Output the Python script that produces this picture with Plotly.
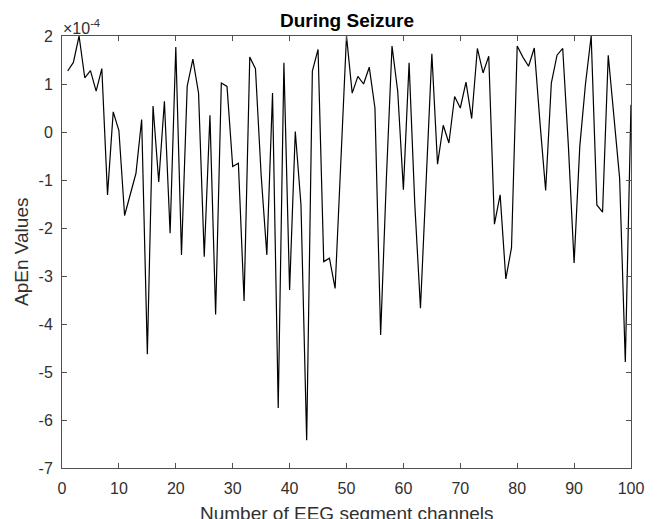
import plotly.graph_objects as go

# ApEn values in units of 1e-4
channels = list(range(1, 101))
apen_values = [
    1.27, 1.45, 2.00, 1.13, 1.28, 0.85, 1.32, -1.31, 0.42, 0.03,
    -1.74, -1.30, -0.86, 0.26, -4.63, 0.54, -1.04, 0.64, -2.11, 1.77,
    -2.56, 0.95, 1.52, 0.81, -2.60, 0.35, -3.80, 1.02, 0.95, -0.72,
    -0.65, -3.52, 1.56, 1.32, -0.90, -2.56, 0.81, -5.75, 1.44, -3.29,
    0.01, -1.52, -6.42, 1.27, 1.72, -2.70, -2.63, -3.26, -0.50, 2.00,
    0.81, 1.16, 1.00, 1.35, 0.50, -4.23, -1.00, 1.79, 0.85, -1.20,
    1.44, -1.50, -3.67, -0.90, 1.63, -0.67, 0.14, -0.23, 0.74, 0.50,
    1.04, 0.28, 1.74, 1.23, 1.58, -1.92, -1.31, -3.06, -2.41, 1.79,
    1.56, 1.37, 1.75, 0.20, -1.22, 1.02, 1.60, 1.74, -0.30, -2.73,
    -0.30, 1.00, 2.00, -1.52, -1.67, 1.60, 0.30, -0.96, -4.79, 0.57,
]
x_ticks = list(range(0, 101, 10))
y_ticks = list(range(-7, 3))

title_text = "During Seizure"
x_title = "Number of EEG segment channels"
y_title = "ApEn Values"
exp_text = "×10<sup>-4</sup>"

FONT = "Liberation Sans, Arial, Helvetica, sans-serif"
TXT = "#303030"
AXC = "#505050"

fig = go.Figure()
fig.add_trace(go.Scatter(
    x=channels, y=apen_values, mode="lines",
    line=dict(color="black", width=1.2),
    hoverinfo="skip", showlegend=False,
))

axis_common = dict(
    showgrid=False, zeroline=False, showline=True, linecolor=AXC,
    linewidth=1, mirror="ticks", ticks="inside", ticklen=5,
    tickcolor=AXC, tickwidth=1,
    tickfont=dict(family=FONT, size=16, color=TXT),
)

fig.update_layout(
    width=659, height=519,
    margin=dict(l=62, r=28, t=36, b=51),
    paper_bgcolor="white", plot_bgcolor="white",
    xaxis=dict(range=[0, 100], tickvals=x_ticks, ticklabelstandoff=6,
               ticktext=[str(v) for v in x_ticks], **axis_common),
    yaxis=dict(range=[-7, 2], tickvals=y_ticks, ticklabelstandoff=5,
               ticktext=[str(v) for v in y_ticks], **axis_common),
    annotations=[
        dict(text=f"<b>{title_text}</b>", x=0.5, y=1, xref="paper", yref="paper",
             yshift=16, xanchor="center", yanchor="middle", showarrow=False,
             font=dict(family=FONT, size=19, color="black")),
        dict(text=exp_text, x=0, y=1, xref="paper", yref="paper",
             xshift=-1, yshift=-3, xanchor="left", yanchor="bottom", showarrow=False,
             font=dict(family=FONT, size=16, color=TXT)),
        dict(text=x_title, x=0.5, y=0, xref="paper", yref="paper",
             yshift=-45, xanchor="center", yanchor="middle", showarrow=False,
             font=dict(family=FONT, size=19, color=TXT)),
        dict(text=y_title, x=0, y=0.5, xref="paper", yref="paper",
             xshift=-41, xanchor="center", yanchor="middle", showarrow=False,
             textangle=-90, font=dict(family=FONT, size=19, color=TXT)),
    ],
)

fig.write_html("out.html", config={"displayModeBar": False},
               post_script="document.body.style.margin='0';")
